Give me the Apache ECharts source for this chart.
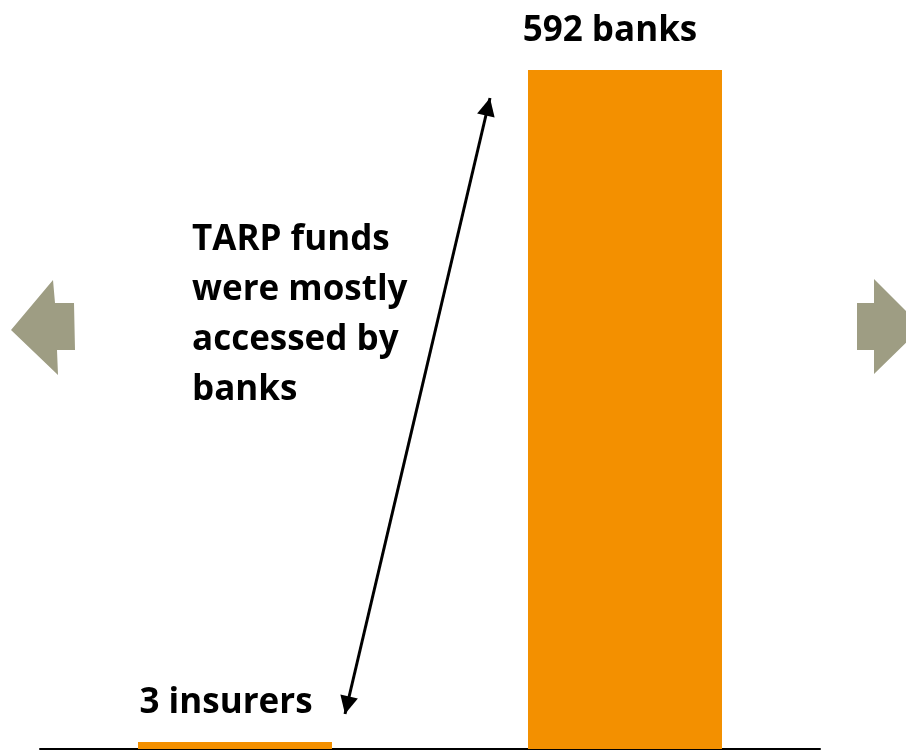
<!DOCTYPE html>
<html>
<head>
<meta charset="utf-8">
<script src="https://cdn.jsdelivr.net/npm/echarts@6/dist/echarts.min.js"></script>
<style>
  html, body { margin: 0; padding: 0; background: #fff; }
  #chart { width: 906px; height: 751px; }
</style>
</head>
<body>
<div id="chart"></div>
<script>
const categories = ['insurers', 'banks'];
const counts = [3, 592];
const barLabels = ['3 insurers', '592 banks'];
const note = ['TARP funds', 'were mostly', 'accessed by', 'banks'];

const FONT = '"Open Sans", "Noto Sans", sans-serif';
const ARROW_GREY = '#9e9d83';

// double headed arrow between the two bar labels
function arrowHead(tip, from, len, half) {
  const dx = tip[0] - from[0], dy = tip[1] - from[1];
  const d = Math.sqrt(dx * dx + dy * dy);
  const ux = dx / d, uy = dy / d;
  const bx = tip[0] - ux * len, by = tip[1] - uy * len;
  return [tip, [bx - uy * half, by + ux * half], [bx + uy * half, by - ux * half]];
}
const arrowTop = [490, 98];
const arrowBottom = [345, 714];

const myChart = echarts.init(document.getElementById('chart'));
const option = {
  animation: false,
  grid: { left: 40, right: 86, top: 70, bottom: 2 },
  xAxis: {
    type: 'category',
    data: categories,
    axisLine: { lineStyle: { color: '#000', width: 2 } },
    axisTick: { show: false },
    axisLabel: { show: false },
  },
  yAxis: {
    type: 'value',
    min: 0,
    max: 592,
    show: false,
    splitLine: { show: false },
  },
  series: [
    {
      type: 'bar',
      barWidth: 194,
      barMinHeight: 7,
      itemStyle: { color: '#f39000' },
      data: counts.map((v, i) => ({
        value: v,
        label: { offset: [i === 0 ? -9 : -15, 0] },
      })),
      label: {
        show: true,
        position: 'top',
        distance: 21,
        fontFamily: FONT,
        fontWeight: 'bold',
        fontSize: 35,
        color: '#000',
        formatter: (p) => barLabels[p.dataIndex],
      },
    },
  ],
  graphic: [
    {
      type: 'text',
      left: 192,
      top: 215,
      style: {
        text: note.join('\n'),
        fontFamily: FONT,
        fontWeight: 'bold',
        fontSize: 35,
        lineHeight: 50,
        fill: '#000',
      },
    },
    {
      type: 'line',
      shape: { x1: arrowTop[0], y1: arrowTop[1], x2: arrowBottom[0], y2: arrowBottom[1] },
      style: { stroke: '#000', lineWidth: 3 },
    },
    {
      type: 'polygon',
      shape: { points: arrowHead(arrowTop, arrowBottom, 18, 9) },
      style: { fill: '#000' },
    },
    {
      type: 'polygon',
      shape: { points: arrowHead(arrowBottom, arrowTop, 18, 9) },
      style: { fill: '#000' },
    },
    {
      type: 'polygon',
      shape: { points: [[11, 330], [53, 280], [55, 303], [74, 303], [75, 350], [57, 350], [58, 375]] },
      style: { fill: ARROW_GREY },
    },
    {
      type: 'polygon',
      shape: { points: [[857, 303], [874, 303], [874, 279], [922, 327], [874, 374], [874, 350], [857, 350]] },
      style: { fill: ARROW_GREY },
    },
  ],
};
myChart.setOption(option);
</script>
</body>
</html>
